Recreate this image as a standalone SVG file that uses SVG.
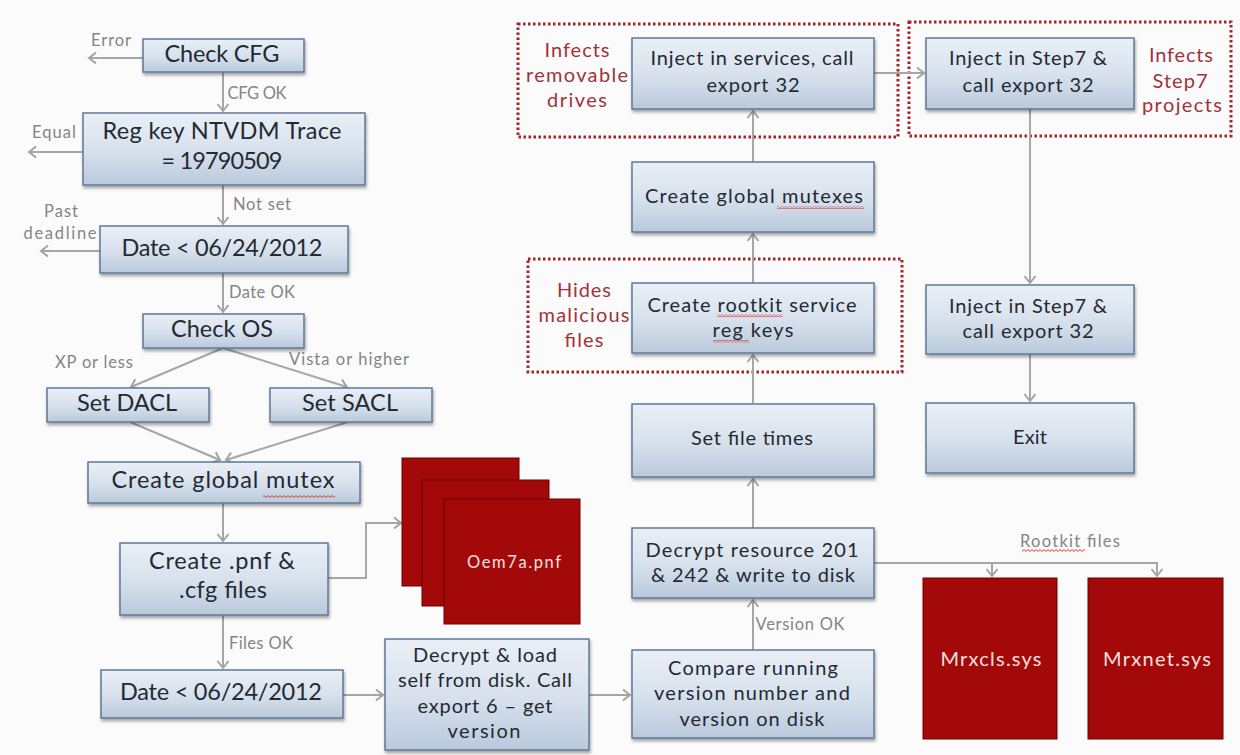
<svg xmlns="http://www.w3.org/2000/svg" width="1240" height="755" viewBox="0 0 1240 755">
<defs>
<linearGradient id="bg" x1="0" y1="0" x2="0" y2="1">
<stop offset="0" stop-color="#eaeff6"/>
<stop offset="0.55" stop-color="#d6e0ec"/>
<stop offset="1" stop-color="#b9c9dc"/>
</linearGradient>
<filter id="sh" x="-10%" y="-10%" width="120%" height="130%">
<feDropShadow dx="1" dy="2.5" stdDeviation="1.5" flood-color="#000" flood-opacity="0.35"/>
</filter>
<marker id="ah" markerUnits="userSpaceOnUse" markerWidth="14" markerHeight="14" viewBox="-8 -7 10 14" refX="0" refY="0" orient="auto">
<path d="M-7,-5.5 L0,0 L-7,5.5" fill="none" stroke="#a3a3a3" stroke-width="2"/>
</marker>
<pattern id="sq" width="4" height="3" patternUnits="userSpaceOnUse">
<path d="M0,0.6 L2,2.4 L4,0.6" fill="none" stroke="#d22" stroke-width="0.9"/>
</pattern>
</defs>
<style>
.box{fill:url(#bg);stroke:#5f7899;stroke-width:1.5;filter:url(#sh)}
.red{fill:#a40909;stroke:#6e0000;stroke-width:1}
.t{font-family:Lato,"Liberation Sans",sans-serif;fill:#232a33;text-anchor:middle}
.big{font-size:23.5px}
.mid{font-size:20px}
.lbl{font-family:Lato,"Liberation Sans",sans-serif;font-size:16.5px;fill:#858585;text-anchor:middle}
.rl{font-family:Lato,"Liberation Sans",sans-serif;font-size:20px;fill:#a3323a;text-anchor:middle}
.wt{font-family:Lato,"Liberation Sans",sans-serif;fill:#f4e0e0;text-anchor:middle}
.dot{fill:none;stroke:#a3242a;stroke-width:3;stroke-dasharray:2.5 2.5}
.c{fill:none;stroke:#a6a6a6;stroke-width:2}
.ca{fill:none;stroke:#a6a6a6;stroke-width:2;marker-end:url(#ah)}
</style>
<rect x="0" y="0" width="1240" height="755" fill="#fafbfa"/>

<g id="groups">
<rect class="dot" x="518" y="24" width="380" height="113"/>
<rect class="dot" x="528" y="259" width="374" height="113"/>
<rect class="dot" x="909" y="22" width="322" height="114"/>
<text class="rl" x="577" y="57" textLength="65">Infects</text>
<text class="rl" x="577" y="82" textLength="102">removable</text>
<text class="rl" x="577" y="107" textLength="60">drives</text>
<text class="rl" x="584" y="297" textLength="54">Hides</text>
<text class="rl" x="584" y="322" textLength="91">malicious</text>
<text class="rl" x="584" y="347" textLength="39">files</text>
<text class="rl" x="1181" y="62" textLength="64">Infects</text>
<text class="rl" x="1180" y="88" textLength="55">Step7</text>
<text class="rl" x="1182" y="112" textLength="80">projects</text>
</g>

<g id="connectors">
<path class="ca" d="M143,58 H89"/>
<path class="ca" d="M223,72 V111"/>
<path class="ca" d="M83,152 H29"/>
<path class="ca" d="M223,185 V224"/>
<path class="ca" d="M100,251 H41"/>
<path class="ca" d="M223,273 V312"/>
<path class="ca" d="M223,348 L131,387"/>
<path class="ca" d="M223,348 L347,387"/>
<path class="ca" d="M130,422 L220,460"/>
<path class="ca" d="M348,422 L226,460"/>
<path class="ca" d="M223,503 V541"/>
<path class="ca" d="M328,578 H366 V523 H401"/>
<path class="ca" d="M223,615 V668"/>
<path class="ca" d="M343,695 H383"/>
<path class="ca" d="M589,695 H630"/>
<path class="ca" d="M753,650 V600"/>
<path class="ca" d="M753,528 V479"/>
<path class="ca" d="M753,403 V355"/>
<path class="ca" d="M753,283 V234"/>
<path class="ca" d="M753,162 V111"/>
<path class="ca" d="M874,73 H924"/>
<path class="ca" d="M1030,109 V283"/>
<path class="ca" d="M1030,354 V401"/>
<path class="ca" d="M874,563 H1157 V576"/>
<path class="ca" d="M992,563 V576"/>
<text class="lbl" x="111" y="46" textLength="40">Error</text>
<text class="lbl" x="257" y="99" textLength="59">CFG OK</text>
<text class="lbl" x="54" y="138" textLength="44">Equal</text>
<text class="lbl" x="262" y="210" textLength="58">Not set</text>
<text class="lbl" x="61" y="217" textLength="34">Past</text>
<text class="lbl" x="60" y="239" textLength="73">deadline</text>
<text class="lbl" x="262" y="298" textLength="66">Date OK</text>
<text class="lbl" x="94" y="368" textLength="78">XP or less</text>
<text class="lbl" x="349" y="365" textLength="120">Vista or higher</text>
<text class="lbl" x="261" y="649" textLength="64">Files OK</text>
<text class="lbl" x="800" y="630" textLength="89">Version OK</text>
<text class="lbl" x="1070" y="547" textLength="100">Rootkit files</text>
<rect x="1022" y="549" width="63" height="3" fill="url(#sq)"/>
</g>

<g id="n-checkcfg">
<rect class="box" x="143" y="39" width="161" height="33"/>
<text class="t big" x="222" y="62" textLength="115">Check CFG</text>
</g>
<g id="n-regkey">
<rect class="box" x="83" y="113" width="282" height="72"/>
<text class="t big" x="222" y="139" textLength="239">Reg key NTVDM Trace</text>
<text class="t big" x="222" y="169" textLength="121">= 19790509</text>
</g>
<g id="n-date1">
<rect class="box" x="100" y="226" width="248" height="47"/>
<text class="t big" x="222" y="256" textLength="201">Date &lt; 06/24/2012</text>
</g>
<g id="n-checkos">
<rect class="box" x="143" y="314" width="161" height="34"/>
<text class="t big" x="222" y="337" textLength="102">Check OS</text>
</g>
<g id="n-dacl">
<rect class="box" x="47" y="388" width="162" height="34"/>
<text class="t big" x="127" y="411" textLength="100">Set DACL</text>
</g>
<g id="n-sacl">
<rect class="box" x="270" y="388" width="162" height="34"/>
<text class="t big" x="350" y="411" textLength="96">Set SACL</text>
</g>
<g id="n-mutex">
<rect class="box" x="88" y="462" width="272" height="41"/>
<text class="t big" x="223" y="488" textLength="223">Create global mutex</text>
<rect x="263" y="495" width="72" height="3" fill="url(#sq)"/>
</g>
<g id="n-pnf">
<rect class="box" x="120" y="543" width="208" height="72"/>
<text class="t big" x="222" y="569" textLength="146">Create .pnf &amp;</text>
<text class="t big" x="223" y="598" textLength="88">.cfg files</text>
</g>
<g id="n-date2">
<rect class="box" x="101" y="670" width="242" height="48"/>
<text class="t big" x="221" y="700" textLength="202">Date &lt; 06/24/2012</text>
</g>
<g id="n-oem">
<rect class="red" x="402" y="458" width="117" height="128"/>
<rect class="red" x="422" y="480" width="127" height="126"/>
<rect class="red" x="444" y="499" width="136" height="125"/>
<text class="wt" x="514" y="568" font-size="16.5" textLength="94">Oem7a.pnf</text>
</g>
<g id="n-decryptload">
<rect class="box" x="385" y="639" width="204" height="111"/>
<text class="t mid" x="485" y="662" textLength="144">Decrypt &amp; load</text>
<text class="t mid" x="485" y="687" textLength="174">self from disk. Call</text>
<text class="t mid" x="485" y="713" textLength="135">export 6 – get</text>
<text class="t mid" x="484" y="738" textLength="73">version</text>
</g>
<g id="n-compare">
<rect class="box" x="632" y="650" width="242" height="88"/>
<text class="t mid" x="753" y="675" textLength="170">Compare running</text>
<text class="t mid" x="752" y="700" textLength="196">version number and</text>
<text class="t mid" x="752" y="726" textLength="145">version on disk</text>
</g>
<g id="n-decryptres">
<rect class="box" x="632" y="528" width="242" height="70"/>
<text class="t mid" x="752" y="557" textLength="213">Decrypt resource 201</text>
<text class="t mid" x="753" y="582" textLength="204">&amp; 242 &amp; write to disk</text>
</g>
<g id="n-settimes">
<rect class="box" x="632" y="404" width="242" height="73"/>
<text class="t mid" x="752" y="445" textLength="122">Set file times</text>
</g>
<g id="n-rootkit">
<rect class="box" x="632" y="283" width="242" height="70"/>
<text class="t mid" x="752" y="312" textLength="209">Create rootkit service</text>
<text class="t mid" x="753" y="337" textLength="81">reg keys</text>
<rect x="717" y="314" width="66" height="3" fill="url(#sq)"/>
<rect x="713" y="340" width="36" height="3" fill="url(#sq)"/>
</g>
<g id="n-mutexes">
<rect class="box" x="632" y="162" width="242" height="70"/>
<text class="t mid" x="754" y="203" textLength="218">Create global mutexes</text>
<rect x="777" y="206" width="87" height="3" fill="url(#sq)"/>
</g>
<g id="n-injectsvc">
<rect class="box" x="632" y="38" width="242" height="71"/>
<text class="t mid" x="752" y="65" textLength="203">Inject in services, call</text>
<text class="t mid" x="753" y="92" textLength="93">export 32</text>
</g>
<g id="n-step7a">
<rect class="box" x="926" y="38" width="208" height="71"/>
<text class="t mid" x="1028" y="65" textLength="158">Inject in Step7 &amp;</text>
<text class="t mid" x="1028" y="92" textLength="131">call export 32</text>
</g>
<g id="n-step7b">
<rect class="box" x="926" y="285" width="208" height="69"/>
<text class="t mid" x="1028" y="313" textLength="158">Inject in Step7 &amp;</text>
<text class="t mid" x="1028" y="338" textLength="131">call export 32</text>
</g>
<g id="n-exit">
<rect class="box" x="926" y="403" width="208" height="70"/>
<text class="t mid" x="1030" y="444" textLength="34">Exit</text>
</g>
<g id="n-mrxcls">
<rect class="red" x="923" y="578" width="134" height="161"/>
<text class="wt" x="991" y="666" font-size="20" textLength="101">Mrxcls.sys</text>
</g>
<g id="n-mrxnet">
<rect class="red" x="1088" y="578" width="135" height="161"/>
<text class="wt" x="1157" y="666" font-size="20" textLength="108">Mrxnet.sys</text>
</g>
</svg>
